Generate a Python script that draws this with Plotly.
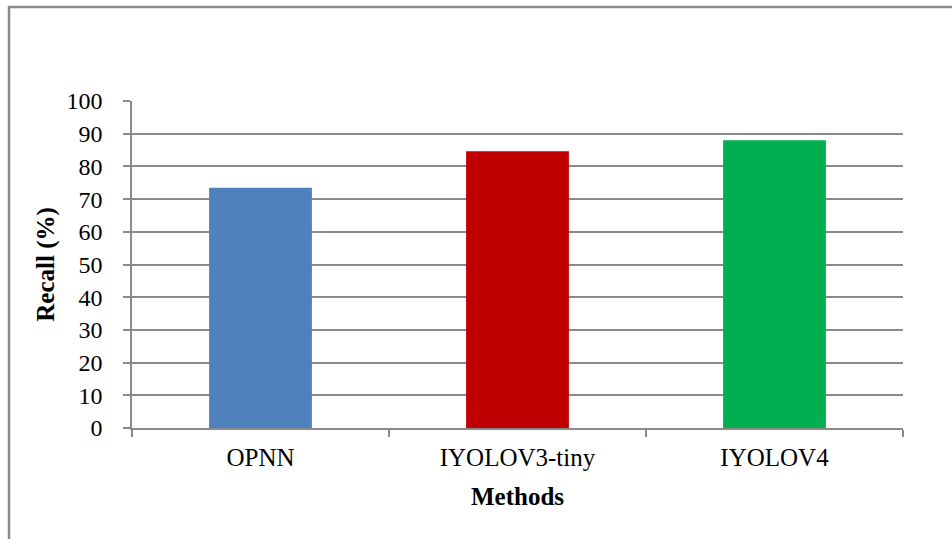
import plotly.graph_objects as go

# Recall of each detection method
methods = ["OPNN", "IYOLOV3-tiny", "IYOLOV4"]
recall = [73.5, 84.6, 88.0]
bar_colors = ["#4f81bd", "#c00000", "#00b050"]
y_ticks = list(range(0, 101, 10))

W, H = 952, 539
L, R, T, B = 132, 49, 101, 111
pw, ph = W - L - R, H - T - B

fig = go.Figure(
    go.Bar(
        x=methods,
        y=recall,
        marker=dict(color=bar_colors, line=dict(width=0)),
        width=0.4,
    )
)

serif = "Liberation Serif, Times New Roman, serif"
axis_grey = "#8a8a8a"

fig.update_layout(
    width=W,
    height=H,
    margin=dict(l=L, r=R, t=T, b=B),
    paper_bgcolor="#ffffff",
    plot_bgcolor="#ffffff",
    font=dict(family=serif, size=24, color="#000000"),
    showlegend=False,
    xaxis=dict(
        showgrid=False,
        showline=True,
        linecolor=axis_grey,
        linewidth=1.5,
        ticks="outside",
        ticklen=7,
        tickwidth=1.5,
        tickcolor=axis_grey,
        tickson="boundaries",
        tickfont=dict(size=25),
        ticklabelstandoff=6,
        title=dict(text="<b>Methods</b>", font=dict(size=25), standoff=18),
    ),
    yaxis=dict(
        range=[0, 100],
        tickvals=y_ticks,
        showgrid=True,
        gridcolor=axis_grey,
        gridwidth=1.5,
        showline=True,
        linecolor=axis_grey,
        linewidth=1.5,
        ticks="outside",
        ticklen=7,
        tickwidth=1.5,
        tickcolor=axis_grey,
        tickfont=dict(size=24),
        ticklabelstandoff=16,
        zeroline=False,
        title=dict(text="<b>Recall (%)</b>", font=dict(size=25), standoff=5),
    ),
    shapes=[
        dict(
            type="rect",
            xref="paper",
            yref="paper",
            x0=(9 - L) / pw,
            x1=(W + 20 - L) / pw,
            y0=-(B + 20) / ph,
            y1=1 + (T - 7) / ph,
            line=dict(color=axis_grey, width=2.5),
            fillcolor="rgba(0,0,0,0)",
            layer="below",
        )
    ],
)

fig.write_html("out.html")
